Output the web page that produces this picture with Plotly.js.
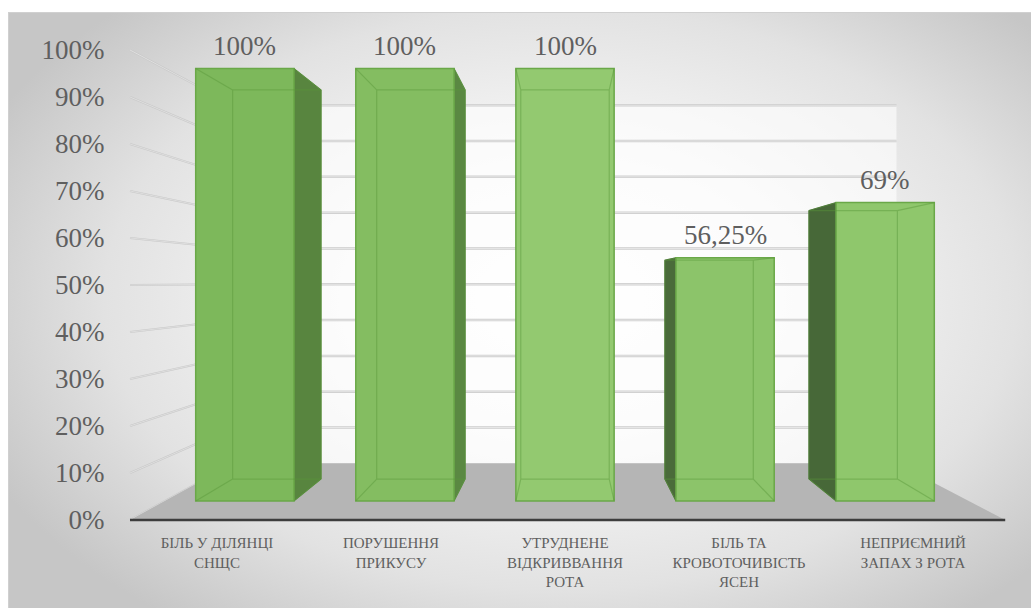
<!DOCTYPE html>
<html>
<head>
<meta charset="utf-8">
<script src="https://cdn.plot.ly/plotly-3.0.1.min.js"></script>
<style>
  html, body { margin: 0; padding: 0; background: #ffffff; font-family: 'Liberation Serif', serif; }
  #wrap { position: relative; width: 1031px; height: 608px; overflow: hidden; background: #ffffff; }
  #frame { position: absolute; left: 8px; top: 12px; width: 1023px; height: 596px;
    border-left: 1px solid #d0d0d0; border-top: 1px solid #d0d0d0; box-sizing: border-box;
    background: radial-gradient(ellipse 62% 68% at 54% 48%, #ffffff 0%, #f7f7f7 35%, #e2e2e2 72%, #c6c6c6 100%); }
  #chart { position: absolute; left: 0; top: 0; width: 1031px; height: 608px; }
  #chart svg text, #chart svg tspan { font-family: 'Liberation Serif', 'Times New Roman', serif !important; }
</style>
</head>
<body>
<div id="wrap"><div id="frame"></div><div id="chart"></div></div>
<script>
// ---- data ----
const categories = [
  'БІЛЬ У ДІЛЯНЦІ<br>СНЩС',
  'ПОРУШЕННЯ<br>ПРИКУСУ',
  'УТРУДНЕНЕ<br>ВІДКРИВВАННЯ<br>РОТА',
  'БІЛЬ ТА<br>КРОВОТОЧИВІСТЬ<br>ЯСЕН',
  'НЕПРИЄМНИЙ<br>ЗАПАХ З РОТА'
];
const values = [1, 1, 1, 0.5625, 0.69];
const yTicks = [0, 0.1, 0.2, 0.3, 0.4, 0.5, 0.6, 0.7, 0.8, 0.9, 1];

// ---- styling / perspective constants ----
const W = 1031, H = 608;
const X0 = 217, DX = 174;      // front plane: px of category 0 and spacing
const Y0 = 520, DY = 470;      // front plane: px of 0% and px per 100%
const IV = 2, TV = 0.5064;     // vanishing point in front-plane units
const S_BAR = 0.92;            // depth scale of bar front faces
const K_BAR = 0.9;             // depth ratio back face / front face of bars
const S_WALL = 0.762;          // depth scale of back wall
const HW = 0.307;              // half bar width (category units)
const faceColors = ['#7db85b', '#84bd61', '#93c970', '#8cc46a', '#8fc76c'];
const sideColors = ['#58853f', '#5a8842', '#5a8842', '#4a6b3a', '#476838'];
const edgeColor = 'rgba(88,150,58,0.45)';
const textColor = '#5f5f5f';
const FONT_FAMILY = 'Liberation Serif';

const fx = [-X0 / DX, (W - X0) / DX];
const fy = [(Y0 - H) / DY, Y0 / DY];
const scaledRange = (r, c, s) => r.map(f => c + (f - c) / s);
const bx = scaledRange(fx, IV, S_BAR);
const by = scaledRange(fy, TV, S_BAR);
// point moved back in depth by ratio k about the vanishing point
const back = (i, t, k) => [IV + k * (i - IV), TV + k * (t - TV)];

const shapes = [];
const L0 = -0.5, R0 = categories.length - 0.5;

// back wall
const bw0 = back(L0, 0, S_WALL), bw1 = back(R0, 1, S_WALL);
shapes.push({type: 'rect', xref: 'x', yref: 'y', layer: 'below',
  x0: bw0[0], y0: bw0[1], x1: bw1[0], y1: bw1[1],
  fillcolor: 'rgba(255,255,255,0.6)', line: {width: 0}});
// back wall gridlines and left wall lines
yTicks.forEach(t => {
  const a = back(L0, t, S_WALL), b = back(R0, t, S_WALL);
  if (t > 0) {
    shapes.push({type: 'line', xref: 'x', yref: 'y', layer: 'below',
      x0: a[0], y0: a[1], x1: b[0], y1: b[1], line: {color: '#cdcdcd', width: 2.5}});
    shapes.push({type: 'line', xref: 'x', yref: 'y', layer: 'below',
      x0: a[0], y0: a[1], x1: b[0], y1: b[1], line: {color: '#ececec', width: 0.8}});
  }
  shapes.push({type: 'line', xref: 'x', yref: 'y', layer: 'below',
    x0: L0, y0: t, x1: a[0], y1: a[1], line: {color: '#c9c9c9', width: 2}});
  shapes.push({type: 'line', xref: 'x', yref: 'y', layer: 'below',
    x0: L0, y0: t, x1: a[0], y1: a[1], line: {color: '#ececec', width: 0.6}});
});
// floor
const fb0 = back(L0, 0, S_WALL), fb1 = back(R0, 0, S_WALL);
shapes.push({type: 'path', xref: 'x', yref: 'y', layer: 'below',
  path: `M ${L0},0 L ${R0 + 0.03},0 L ${fb1[0]},${fb1[1]} L ${fb0[0]},${fb0[1]} Z`,
  fillcolor: '#b5b5b5', line: {width: 0}});
// axis line at the front edge of the floor
shapes.push({type: 'line', xref: 'x', yref: 'y', layer: 'below',
  x0: L0, y0: 0, x1: R0 + 0.03, y1: 0, line: {color: '#3d3d3d', width: 2.5}});

// bar side faces and see-through back edges
const p = (pt) => `${pt[0]},${pt[1]}`;
values.forEach((v, i) => {
  const Lx = i - HW, Rx = i + HW;
  const LT = back(Lx, v, K_BAR), LB = back(Lx, 0, K_BAR);
  const RT = back(Rx, v, K_BAR), RB = back(Rx, 0, K_BAR);
  if (i < IV) {
    shapes.push({type: 'path', xref: 'x2', yref: 'y2', layer: 'below',
      path: `M ${Rx},${v} L ${p(RT)} L ${p(RB)} L ${Rx},0 Z`,
      fillcolor: sideColors[i], line: {color: sideColors[i], width: 1}});
  } else if (i > IV) {
    shapes.push({type: 'path', xref: 'x2', yref: 'y2', layer: 'below',
      path: `M ${Lx},${v} L ${p(LT)} L ${p(LB)} L ${Lx},0 Z`,
      fillcolor: sideColors[i], line: {color: sideColors[i], width: 1}});
  }
  shapes.push({type: 'path', xref: 'x2', yref: 'y2', layer: 'above',
    path: `M ${p(LT)} L ${p(RT)} L ${p(RB)} L ${p(LB)} Z ` +
          `M ${Lx},${v} L ${p(LT)} M ${Lx},0 L ${p(LB)} ` +
          `M ${Rx},${v} L ${p(RT)} M ${Rx},0 L ${p(RB)}`,
    line: {color: edgeColor, width: 1.2}});
});

const fmt = v => (Math.round(v * 10000) / 100).toString().replace('.', ',') + '%';
const annotations = values.map((v, i) => ({
  xref: 'x2', yref: 'y2', x: i, y: v, text: fmt(v), showarrow: false,
  yanchor: 'bottom', yshift: 6, font: {family: FONT_FAMILY, size: 27, color: textColor}
}));

const data = [
  {type: 'scatter', x: [0], y: [0], mode: 'markers', marker: {opacity: 0},
   xaxis: 'x', yaxis: 'y', hoverinfo: 'skip', showlegend: false},
  {type: 'bar', x: categories.map((c, i) => i), y: values, width: 2 * HW,
   xaxis: 'x2', yaxis: 'y2', showlegend: false, hoverinfo: 'skip',
   marker: {color: faceColors, line: {color: '#6aa848', width: 1.5}}}
];

const layout = {
  width: W, height: H,
  margin: {l: 0, r: 0, t: 0, b: 0},
  paper_bgcolor: 'rgba(0,0,0,0)', plot_bgcolor: 'rgba(0,0,0,0)',
  showlegend: false,
  font: {family: FONT_FAMILY, color: textColor},
  xaxis: {domain: [0, 1], range: fx, anchor: 'free', position: (H - Y0) / H,
    tickmode: 'array', tickvals: categories.map((c, i) => i), ticktext: categories,
    ticks: 'outside', ticklen: 9, tickcolor: 'rgba(0,0,0,0)',
    showgrid: false, zeroline: false, showline: false, tickangle: 0,
    tickfont: {family: FONT_FAMILY, size: 15, color: textColor}},
  yaxis: {domain: [0, 1], range: fy, anchor: 'free', position: 130 / W,
    tickmode: 'array', tickvals: yTicks, tickformat: '.0%',
    ticks: 'outside', ticklen: 20, tickcolor: 'rgba(0,0,0,0)',
    showgrid: false, zeroline: false, showline: false,
    tickfont: {family: FONT_FAMILY, size: 27, color: textColor}},
  xaxis2: {domain: [0, 1], range: bx, overlaying: 'x', anchor: 'y2', visible: false},
  yaxis2: {domain: [0, 1], range: by, overlaying: 'y', anchor: 'x2', visible: false},
  shapes: shapes,
  annotations: annotations
};

Plotly.newPlot('chart', data, layout, {staticPlot: true, displayModeBar: false});
</script>
</body>
</html>
